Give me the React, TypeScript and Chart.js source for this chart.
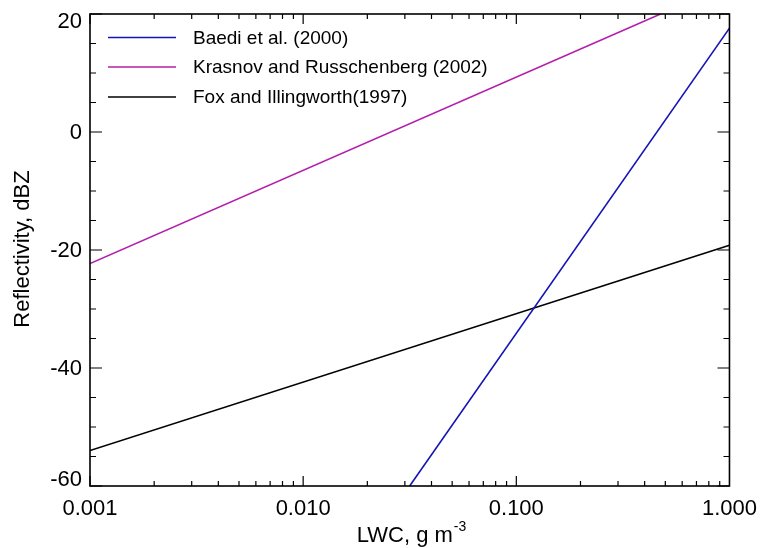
import React, { useEffect, useRef } from "react";
import { Chart, registerables } from "chart.js";

Chart.register(...registerables);

// Series data (LWC in g m^-3, reflectivity in dBZ)
const baediLwc = [0.0316, 1.0];
const baediDbz = [-60, 17.6];
const krasnovLwc = [0.001, 0.475];
const krasnovDbz = [-22.3, 20];
const foxLwc = [0.001, 1.0];
const foxDbz = [-54.0, -19.2];

const seriesLabels = ["Baedi et al. (2000)", "Krasnov and Russchenberg (2002)", "Fox and Illingworth(1997)"];
const seriesColors = ["#1414B4", "#B41EAA", "#000000"];

const xTickValues = [0.001, 0.01, 0.1, 1];
const xTickLabels = ["0.001", "0.010", "0.100", "1.000"];
const yTickValues = [-60, -40, -20, 0, 20];
const yTickLabels = ["-60", "-40", "-20", "0", "20"];

const FONT = "'Liberation Sans', Arial, Helvetica, sans-serif";

const toPoints = (xs: number[], ys: number[]) => xs.map((x, i) => ({ x, y: ys[i] }));

const decorPlugin = {
  id: "decor",
  afterDraw(chart: any) {
    const { ctx, chartArea } = chart;
    const xs = chart.scales.x;
    const ys = chart.scales.y;
    const { left, right, top, bottom } = chartArea;
    ctx.save();
    ctx.strokeStyle = "#000";
    ctx.fillStyle = "#000";

    // ticks
    ctx.lineWidth = 1.2;
    ctx.beginPath();
    for (let d = -3; d < 0; d++) {
      for (let m = 1; m <= 9; m++) {
        const v = m * Math.pow(10, d);
        const px = xs.getPixelForValue(v);
        const len = m === 1 ? 10 : 5;
        ctx.moveTo(px, bottom);
        ctx.lineTo(px, bottom - len);
        ctx.moveTo(px, top);
        ctx.lineTo(px, top + len);
      }
    }
    for (let v = -60; v <= 20; v += 5) {
      const py = ys.getPixelForValue(v);
      const len = v % 20 === 0 ? 12 : 6;
      ctx.moveTo(left, py);
      ctx.lineTo(left + len, py);
      ctx.moveTo(right, py);
      ctx.lineTo(right - len, py);
    }
    ctx.stroke();

    // frame
    ctx.lineWidth = 1.6;
    ctx.strokeRect(left, top, right - left, bottom - top);

    // y tick labels
    ctx.font = `22px ${FONT}`;
    ctx.textAlign = "right";
    ctx.textBaseline = "middle";
    yTickValues.forEach((v, i) => {
      let py = ys.getPixelForValue(v);
      py = Math.max(top + 7, Math.min(bottom - 7, py));
      ctx.fillText(yTickLabels[i], left - 8, py + 1);
    });

    // y title
    ctx.save();
    ctx.translate(23, 249);
    ctx.rotate(-Math.PI / 2);
    ctx.textAlign = "center";
    ctx.textBaseline = "middle";
    ctx.font = `22px ${FONT}`;
    ctx.fillText("Reflectivity, dBZ", 0, 0);
    ctx.restore();

    // x title with superscript
    ctx.font = `22px ${FONT}`;
    ctx.textAlign = "left";
    ctx.textBaseline = "alphabetic";
    const main = "LWC, g m";
    const sup = "-3";
    const wMain = ctx.measureText(main).width;
    ctx.font = `14px ${FONT}`;
    const wSup = ctx.measureText(sup).width;
    const startX = 411 - (wMain + wSup) / 2;
    ctx.font = `22px ${FONT}`;
    ctx.fillText(main, startX, 542);
    ctx.font = `14px ${FONT}`;
    ctx.fillText(sup, startX + wMain + 1, 531);

    // legend
    ctx.font = `19px ${FONT}`;
    ctx.textBaseline = "middle";
    ctx.textAlign = "left";
    const legY = [37.5, 67, 97];
    chart.data.datasets.forEach((ds: any, i: number) => {
      ctx.strokeStyle = ds.borderColor;
      ctx.lineWidth = 1.5;
      ctx.beginPath();
      ctx.moveTo(108, legY[i]);
      ctx.lineTo(176, legY[i]);
      ctx.stroke();
      ctx.fillStyle = "#000";
      ctx.fillText(ds.label, 193, legY[i] + 1);
    });

    ctx.restore();
  },
};

export default function App() {
  const ref = useRef<HTMLCanvasElement | null>(null);

  useEffect(() => {
    if (!ref.current) return;
    const chart = new Chart(ref.current, {
      type: "line",
      data: {
        datasets: [
          { label: seriesLabels[0], data: toPoints(baediLwc, baediDbz), borderColor: seriesColors[0] },
          { label: seriesLabels[1], data: toPoints(krasnovLwc, krasnovDbz), borderColor: seriesColors[1] },
          { label: seriesLabels[2], data: toPoints(foxLwc, foxDbz), borderColor: seriesColors[2] },
        ].map((d) => ({ ...d, borderWidth: 1.6, pointRadius: 0, tension: 0, fill: false })),
      },
      options: {
        animation: false,
        responsive: false,
        devicePixelRatio: 1,
        layout: { padding: { left: 0, right: 36, top: 14, bottom: 0 } },
        plugins: { legend: { display: false }, tooltip: { enabled: false } },
        scales: {
          x: {
            type: "logarithmic",
            min: 0.001,
            max: 1,
            grid: { display: false, drawTicks: false },
            border: { display: false },
            afterBuildTicks: (scale: any) => {
              scale.ticks = xTickValues.map((v) => ({ value: v }));
            },
            ticks: {
              autoSkip: false,
              maxRotation: 0,
              padding: 10,
              color: "#000",
              font: { family: FONT, size: 22 },
              callback: (v: any) => {
                const i = xTickValues.findIndex((t) => Math.abs(t - Number(v)) < 1e-9);
                return i >= 0 ? xTickLabels[i] : "";
              },
            },
            afterFit: (scale: any) => {
              scale.height = 62;
            },
          },
          y: {
            type: "linear",
            min: -60,
            max: 20,
            grid: { display: false, drawTicks: false },
            border: { display: false },
            ticks: { display: false },
            afterFit: (scale: any) => {
              scale.width = 90;
            },
          },
        },
      },
      plugins: [decorPlugin],
    } as any);
    return () => chart.destroy();
  }, []);

  return (
    <div style={{ position: "absolute", left: 0, top: 0, width: 767, height: 548, background: "#fff" }}>
      <canvas ref={ref} width={767} height={548} style={{ width: 767, height: 548, display: "block" }} />
    </div>
  );
}
